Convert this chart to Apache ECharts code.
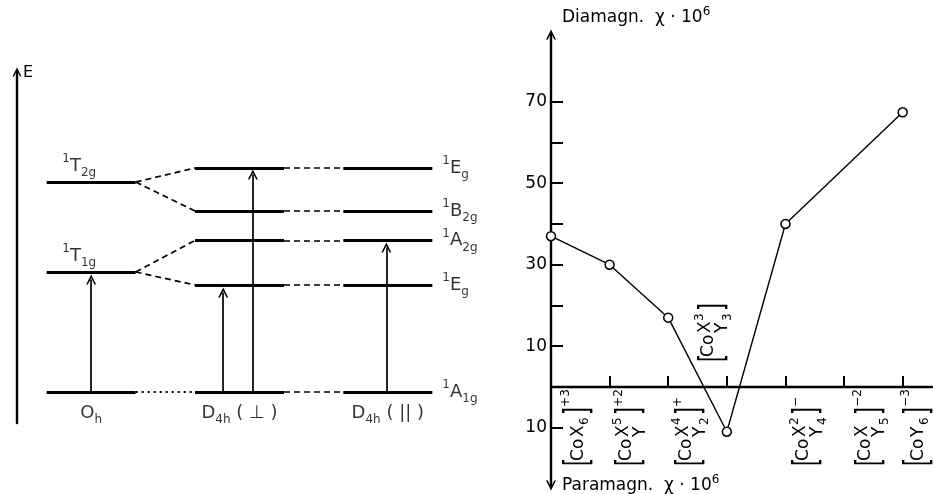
<!DOCTYPE html>
<html><head><meta charset="utf-8">
<script src="https://cdn.jsdelivr.net/npm/echarts@6/dist/echarts.min.js"></script>
<style>html,body{margin:0;padding:0;background:#fff}#c{width:933px;height:494px}</style>
</head><body><div id="c"></div>
<script>
// ===== Left panel: correlation diagram (arbitrary energy units) =====
const columnNames = ['{m|O}{sub|h}', '{m|D}{sub|4h}{m| ( ⊥ )}', '{m|D}{sub|4h}{m| ( || )}'];
const ohLevelNames = ['T1g', 'T2g'];
const ohLevelEnergy = [12.0, 21.0];
const groundName = 'A1g';
const groundEnergy = 0;
const d4hLevelNames = ['Eg', 'A2g', 'B2g', 'Eg'];
const d4hLevelEnergy = [10.7, 15.15, 18.1, 22.4];
const splitFrom = [0, 0, 1, 1];          // which Oh level each D4h level comes from
const transitionColumn = [0, 0.89, 1.09, 1.99];
const transitionTip = [11.7, 10.4, 22.2, 14.9];

// ===== Right panel: diamagnetic susceptibility =====
const complexX = [6, 5, 4, 3, 2, 1, 0];
const complexY = [0, 1, 2, 3, 4, 5, 6];
const complexCharge = ['+3', '+2', '+', '', '−', '−2', '−3'];
const chiValues = [37, 30, 17, -11, 40, null, 67.4];
const yTickValues = [-10, 10, 20, 30, 40, 50, 60, 70];
const yLabelValues = [-10, 10, 30, 50, 70];

const FONT = '"DejaVu Sans", sans-serif';
const ARROW = 'path://M0,10 L5,0 L10,10 L8.3,10 L5,3.4 L1.7,10 Z';
const chart = echarts.init(document.getElementById('c'));

const rich = {
  m: {fontSize: 18, fontFamily: FONT, lineHeight: 26, color: '#000'},
  sup: {fontSize: 12, fontFamily: FONT, lineHeight: 12, verticalAlign: 'top', color: '#000'},
  sub: {fontSize: 12, fontFamily: FONT, lineHeight: 12, verticalAlign: 'bottom', color: '#000'}
};
const term = n => '{sup|1}{m|' + n[0] + '}{sub|' + n.slice(1) + '}';

const COL = [0, 1, 2], HW = 0.3;
const levelSegs = [];
const dashSegs = [];
const dotSegs = [];
[groundEnergy].concat(ohLevelEnergy).forEach(e => levelSegs.push({coords: [[COL[0] - HW, e], [COL[0] + HW, e]]}));
[groundEnergy].concat(d4hLevelEnergy).forEach(e => {
  levelSegs.push({coords: [[COL[1] - HW, e], [COL[1] + HW, e]]});
  levelSegs.push({coords: [[COL[2] - HW, e], [COL[2] + HW, e]]});
  dashSegs.push({coords: [[COL[1] + HW, e], [COL[2] - HW, e]]});
});
dotSegs.push({coords: [[COL[0] + HW, groundEnergy], [COL[1] - HW, groundEnergy]]});
d4hLevelEnergy.forEach((e, i) => dashSegs.push({coords: [[COL[0] + HW, ohLevelEnergy[splitFrom[i]]], [COL[1] - HW, e]]}));
const arrowSegs = transitionColumn.map((x, i) => ({coords: [[x, groundEnergy], [x, transitionTip[i] - 0.45]]}));

const labelPts = [];
labelPts.push({value: [COL[2] + HW, groundEnergy], name: term(groundName), pos: 'right'});
d4hLevelEnergy.forEach((e, i) => labelPts.push({value: [COL[2] + HW, e], name: term(d4hLevelNames[i]), pos: 'right'}));
ohLevelEnergy.forEach((e, i) => labelPts.push({value: [COL[0] - 0.08, e], name: term(ohLevelNames[i]), pos: 'top'}));
columnNames.forEach((n, i) => labelPts.push({value: [COL[i], -2.1], name: n, pos: 'inside'}));

const option = {
  animation: false,
  backgroundColor: '#fff',
  grid: [
    {left: 17, top: 72, width: 445, height: 351},
    {left: 551, top: 34.5, width: 381, height: 451}
  ],
  xAxis: [
    {gridIndex: 0, type: 'value', min: -0.5, max: 2.5, show: false},
    {gridIndex: 1, type: 'value', min: 0, max: 6.5,
      axisLine: {show: true, onZero: true, lineStyle: {color: '#000', width: 2.4}},
      axisTick: {show: true, inside: true, length: 11, customValues: [1, 2, 3, 4, 5, 6], lineStyle: {color: '#000', width: 2}},
      axisLabel: {show: false}, splitLine: {show: false}}
  ],
  yAxis: [
    {gridIndex: 0, type: 'value', min: -3.1, max: 32,
      axisLine: {show: true, onZero: false, symbol: ['none', ARROW], symbolSize: [11, 9], lineStyle: {color: '#000', width: 2.4}},
      axisTick: {show: false}, axisLabel: {show: false}, splitLine: {show: false}},
    {gridIndex: 1, type: 'value', min: -24.2, max: 86.5,
      axisLine: {show: true, onZero: false, symbol: [ARROW, ARROW], symbolSize: [12, 10], lineStyle: {color: '#000', width: 2.4}},
      axisTick: {show: true, inside: true, length: 12, customValues: yTickValues, lineStyle: {color: '#000', width: 2}},
      axisLabel: {show: true, customValues: yLabelValues, margin: 4, formatter: v => String(Math.abs(v)),
        fontSize: 17, fontFamily: FONT, color: '#000'},
      splitLine: {show: false}}
  ],
  series: [
    {type: 'lines', coordinateSystem: 'cartesian2d', xAxisIndex: 0, yAxisIndex: 0, silent: true,
      lineStyle: {color: '#000', width: 3, opacity: 1}, data: levelSegs},
    {type: 'lines', coordinateSystem: 'cartesian2d', xAxisIndex: 0, yAxisIndex: 0, silent: true,
      lineStyle: {color: '#000', width: 1.7, type: [6, 4], opacity: 1}, data: dashSegs},
    {type: 'lines', coordinateSystem: 'cartesian2d', xAxisIndex: 0, yAxisIndex: 0, silent: true,
      lineStyle: {color: '#000', width: 1.8, type: [2, 4], opacity: 1}, data: dotSegs},
    {type: 'lines', coordinateSystem: 'cartesian2d', xAxisIndex: 0, yAxisIndex: 0, silent: true,
      symbol: ['none', ARROW], symbolSize: 10,
      lineStyle: {color: '#000', width: 1.7, opacity: 1}, data: arrowSegs},
    {type: 'scatter', xAxisIndex: 0, yAxisIndex: 0, symbolSize: 0, silent: true,
      data: labelPts.map(p => ({value: p.value, name: p.name,
        label: {show: true, position: p.pos, distance: p.pos === 'right' ? 10 : 3, color: '#000',
          formatter: p.name, rich: rich}}))},
    {type: 'line', xAxisIndex: 1, yAxisIndex: 1, connectNulls: true, silent: true,
      data: chiValues.map((v, i) => [i, v == null ? '-' : v]),
      symbol: 'circle', symbolSize: 9,
      lineStyle: {color: '#000', width: 1.4},
      itemStyle: {color: '#fff', borderColor: '#000', borderWidth: 1.5}}
  ]
};
chart.setOption(option);

// ---- text overlays positioned through the axes ----
function txt(text, x, y, size, extra) {
  return Object.assign({type: 'text', x: x, y: y, silent: true,
    style: {text: text, fontSize: size, fontFamily: FONT, fill: '#000',
      align: 'left', verticalAlign: 'middle', textAlign: 'left', textVerticalAlign: 'middle'}}, extra || {});
}
function complexChildren(i) {
  const nx = complexX[i], ny = complexY[i], q = complexCharge[i];
  const k = [];
  k.push(txt('[', 0, 0, 34, {scaleX: 0.6}));
  const stacked = nx > 0 && ny > 0;
  k.push(txt('Co', 5, stacked ? -5 : 0, 17));
  let end = 43;
  if (stacked) {
    k.push(txt('X', 29, -8, 17));
    if (nx > 1) k.push(txt(String(nx), 41, -14, 12));
    k.push(txt('Y', 29, 9, 17));
    if (ny > 1) k.push(txt(String(ny), 41, 14, 12));
    if (nx > 1 || ny > 1) end += 8;
  } else {
    k.push(txt(nx > 0 ? 'X' : 'Y', 29, 0, 17));
    k.push(txt(String(nx > 0 ? nx : ny), 41, 6, 12));
    end += 8;
  }
  k.push(txt(']', end, 0, 34, {scaleX: 0.6}));
  if (q) k.push(txt(q, end + 8, -13, 12));
  return k;
}
const nudge = [28, 22, 23, -13, 23, 27, 16];
const P = v => chart.convertToPixel({xAxisIndex: 1, yAxisIndex: 1}, v);
const L = v => chart.convertToPixel({xAxisIndex: 0, yAxisIndex: 0}, v);
const gfx = [];
complexX.forEach((_, i) => {
  const base = P([i, 0]);
  const above = chiValues[i] != null && chiValues[i] < 0;
  gfx.push({type: 'group', x: base[0] + nudge[i], y: above ? base[1] - 25 : base[1] + 79,
    rotation: Math.PI / 2, children: complexChildren(i)});
});
const axTop = P([0, 86.5]), axBot = P([0, -24.2]);
const titleRich = {
  n: {fontSize: 17, fontFamily: FONT, lineHeight: 24, color: '#000'},
  s: {fontSize: 12, fontFamily: FONT, lineHeight: 12, verticalAlign: 'top', color: '#000'}
};
gfx.push({type: 'text', x: axTop[0] + 11, y: axTop[1] - 17, silent: true,
  style: {text: '{n|Diamagn.  χ · 10}{s|6}', rich: titleRich, align: 'left', verticalAlign: 'middle'}});
gfx.push({type: 'text', x: axBot[0] + 11, y: axBot[1], silent: true,
  style: {text: '{n|Paramagn.  χ · 10}{s|6}', rich: titleRich, align: 'left', verticalAlign: 'middle'}});
const eTop = L([-0.5, 32]);
gfx.push(txt('E', eTop[0] + 6, eTop[1] + 1, 16));
chart.setOption({graphic: gfx});
</script></body></html>
